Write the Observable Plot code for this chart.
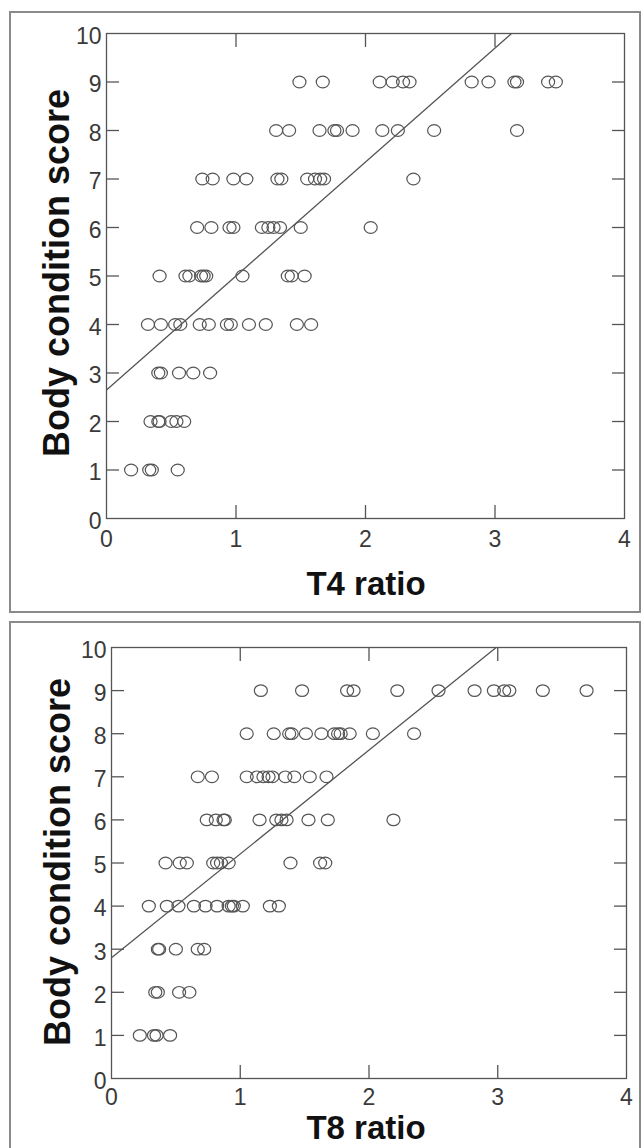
<!DOCTYPE html>
<html>
<head>
<meta charset="utf-8">
<script src="https://cdn.jsdelivr.net/npm/d3@7"></script>
<script src="https://cdn.jsdelivr.net/npm/@observablehq/plot@0.6"></script>
<style>
  html, body { margin: 0; padding: 0; background: #fff; }
  #page { position: relative; width: 643px; height: 1148px; overflow: hidden; background: #fff; font-family: "Liberation Sans", Arial, sans-serif; }
  .box { position: absolute; border: 2px solid #8a8a8a; box-sizing: border-box; }
  .xtitle { position: absolute; width: 300px; text-align: center; font-weight: bold; font-size: 33px; line-height: 32px; color: #111; }
  .ytitle { position: absolute; width: 440px; height: 40px; line-height: 40px; text-align: center; font-weight: bold; font-size: 36px; color: #111; transform: rotate(-90deg); transform-origin: 50% 50%; }
  .panel { position: absolute; left: 0; }
  .panel svg text { font-size: 23px; }
</style>
</head>
<body>
<div id="page">
  <div class="box" style="left:9px; top:11px; width:632px; height:602px;"></div>
  <div class="box" style="left:9px; top:621px; width:632px; height:540px;"></div>
  <div class="panel" id="top" style="top:0px;"></div>
  <div class="panel" id="bottom" style="top:620px;"></div>
  <div class="xtitle" style="left:216px; top:568px;">T4 ratio</div>
  <div class="xtitle" style="left:216px; top:1112px;">T8 ratio</div>
  <div class="ytitle" style="left:-163px; top:253px;">Body condition score</div>
  <div class="ytitle" style="left:-162px; top:842px;">Body condition score</div>
</div>
<script>
// ---- data ----
const scores = [1, 2, 3, 4, 5, 6, 7, 8, 9];

// T4 ratio values for each body condition score (index matches scores)
const t4Ratios = [
  [0.19, 0.33, 0.35, 0.55],
  [0.34, 0.40, 0.41, 0.50, 0.54, 0.60],
  [0.40, 0.42, 0.56, 0.67, 0.80],
  [0.32, 0.42, 0.53, 0.57, 0.72, 0.79, 0.93, 0.96, 1.10, 1.23, 1.47, 1.58],
  [0.41, 0.61, 0.64, 0.73, 0.75, 0.77, 1.05, 1.40, 1.43, 1.53],
  [0.70, 0.81, 0.95, 0.98, 1.20, 1.25, 1.29, 1.34, 1.50, 2.04],
  [0.74, 0.82, 0.98, 1.08, 1.32, 1.35, 1.55, 1.61, 1.65, 1.68, 2.37],
  [1.31, 1.41, 1.645, 1.76, 1.78, 1.90, 2.13, 2.25, 2.53, 3.17],
  [1.49, 1.67, 2.11, 2.21, 2.29, 2.34, 2.82, 2.95, 3.15, 3.17, 3.41, 3.47]
];

// T8 ratio values for each body condition score
const t8Ratios = [
  [0.22, 0.33, 0.35, 0.455],
  [0.34, 0.36, 0.525, 0.605],
  [0.36, 0.37, 0.50, 0.67, 0.72],
  [0.29, 0.43, 0.52, 0.64, 0.73, 0.82, 0.91, 0.935, 0.95, 1.02, 1.23, 1.30],
  [0.42, 0.53, 0.585, 0.79, 0.82, 0.85, 0.91, 1.39, 1.62, 1.66],
  [0.74, 0.81, 0.87, 0.88, 1.15, 1.28, 1.32, 1.36, 1.53, 1.68, 2.19],
  [0.67, 0.78, 1.05, 1.13, 1.18, 1.22, 1.25, 1.35, 1.42, 1.54, 1.67],
  [1.05, 1.26, 1.38, 1.40, 1.51, 1.63, 1.73, 1.76, 1.78, 1.85, 2.03, 2.35],
  [1.16, 1.48, 1.83, 1.88, 2.22, 2.54, 2.82, 2.97, 3.05, 3.09, 3.35, 3.69]
];

// fitted regression lines: [intercept, slope]
const t4Fit = [2.65, 2.35];
const t8Fit = [2.80, 2.41];

const xDomain = [0, 4];
const yDomain = [0, 10];
const xTickLabels = [0, 1, 2, 3, 4];
const yTickLabels = [0, 1, 2, 3, 4, 5, 6, 7, 8, 9, 10];
const xInnerTicks = [1, 2, 3];
const yInnerTicks = [1, 2, 3, 4, 5, 6, 7, 8, 9];

// ---- drawing ----
const ellipse = {
  draw(ctx, size) {
    const r = Math.sqrt(size / Math.PI);
    const rx = r * 1.07, ry = r * 0.95, k = 0.5523;
    ctx.moveTo(rx, 0);
    ctx.bezierCurveTo(rx, ry * k, rx * k, ry, 0, ry);
    ctx.bezierCurveTo(-rx * k, ry, -rx, ry * k, -rx, 0);
    ctx.bezierCurveTo(-rx, -ry * k, -rx * k, -ry, 0, -ry);
    ctx.bezierCurveTo(rx * k, -ry, rx, -ry * k, rx, 0);
    ctx.closePath();
  }
};

const ink = "#555";
const labelInk = "#3a3a3a";

function panel(ratios, fit, m) {
  const pts = scores.flatMap((s, i) => ratios[i].map(x => ({x, y: s})));
  const fitLine = xDomain.map(x => ({x, y: fit[0] + fit[1] * x}));
  return Plot.plot({
    width: 643,
    height: m.height,
    marginLeft: m.left,
    marginRight: m.right,
    marginTop: m.top,
    marginBottom: m.bottom,
    style: {background: "transparent", fontFamily: "'Liberation Sans', Arial, sans-serif", fontSize: "23px", overflow: "visible"},
    x: {domain: xDomain, label: null},
    y: {domain: yDomain, label: null},
    marks: [
      Plot.frame({stroke: ink, strokeWidth: 1.3}),
      // inward ticks on all four sides
      Plot.axisX(xInnerTicks, {anchor: "bottom", tickSize: -13, fill: "none", stroke: ink, strokeWidth: 1.3, label: null}),
      Plot.axisX(xInnerTicks, {anchor: "top", tickSize: -13, fill: "none", stroke: ink, strokeWidth: 1.3, label: null}),
      Plot.axisY(yInnerTicks, {anchor: "left", tickSize: -13, fill: "none", stroke: ink, strokeWidth: 1.3, label: null}),
      Plot.axisY(yInnerTicks, {anchor: "right", tickSize: -13, fill: "none", stroke: ink, strokeWidth: 1.3, label: null}),
      // tick labels
      Plot.axisX(xTickLabels, {anchor: "bottom", tickSize: 0, tickPadding: m.xPad, tickFormat: "d", fontSize: 23, fill: labelInk, label: null}),
      Plot.axisY(yTickLabels, {anchor: "left", tickSize: 0, tickPadding: 5, dy: 3, tickFormat: "d", fontSize: 23, fill: labelInk, label: null}),
      Plot.line(fitLine, {x: "x", y: "y", stroke: ink, strokeWidth: 1.3, clip: true}),
      Plot.dot(pts, {x: "x", y: "y", r: 6.1, symbol: ellipse, fill: "none", stroke: ink, strokeWidth: 1.2})
    ]
  });
}

document.getElementById("top").appendChild(
  panel(t4Ratios, t4Fit, {height: 612, left: 106, right: 19, top: 33, bottom: 94, xPad: 12})
);
document.getElementById("bottom").appendChild(
  panel(t8Ratios, t8Fit, {height: 528, left: 111, right: 17, top: 27, bottom: 70, xPad: 10})
);
</script>
</body>
</html>
